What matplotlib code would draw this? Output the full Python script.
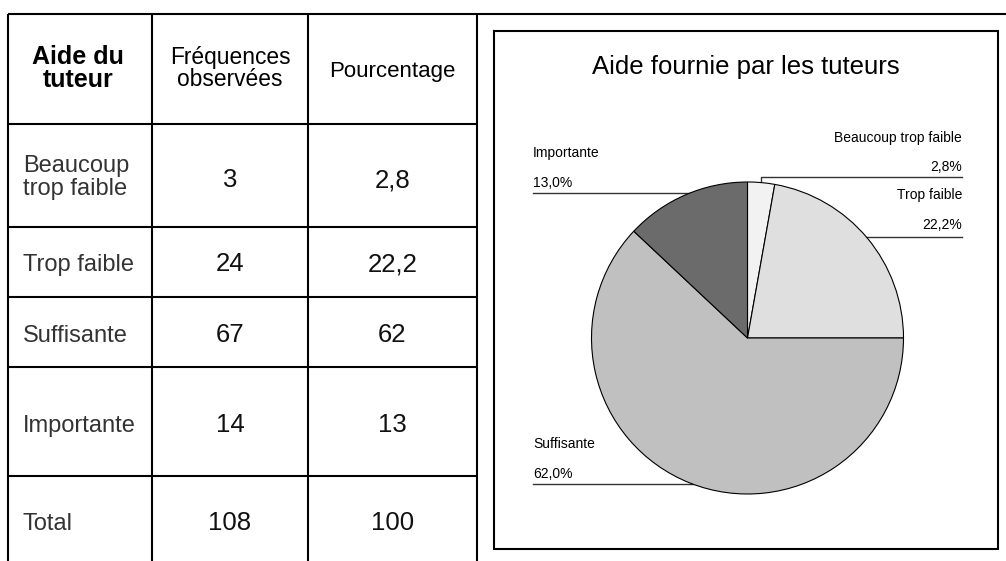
import numpy as np
import matplotlib
matplotlib.use("Agg")
import matplotlib.pyplot as plt

# ---------------- data ----------------
categories = ["Beaucoup trop faible", "Trop faible", "Suffisante", "Importante"]
row_labels = [["Beaucoup", "trop faible"], ["Trop faible"], ["Suffisante"], ["Importante"]]
frequencies = [3, 24, 67, 14]
percentages = [2.8, 22.2, 62, 13]
header = [["Aide du", "tuteur"], ["Fréquences", "observées"], ["Pourcentage"]]
total_label = "Total"
chart_title = "Aide fournie par les tuteurs"
slice_colors = ["#f2f2f2", "#dfdfdf", "#c0c0c0", "#6b6b6b"]

# ---------------- layout (pixels) ----------------
W, H = 1006, 561
FONT = "Liberation Sans"
col_x = [8, 152, 308, 477]
row_y = [14, 124, 227, 297, 367, 476, H]
header_base = [[64, 87], [64, 86], [77]]
header_size = [18, 16.4, 16]
row_base = [[172, 195], [271], [342], [432], [530]]
num_base = [187, 271, 342, 432, 530]
box = (494, 31, 998, 549)
cx, cy, R = 747.5, 338, 156
# label placement: (side, name baseline, pct baseline, line y)
label_layout = {
    "Beaucoup trop faible": ("right", 142, 171, 177),
    "Trop faible": ("right", 199, 229, 237),
    "Suffisante": ("left", 448, 478, 484),
    "Importante": ("left", 157, 187, 193),
}
left_x, right_x = 533, 962

fig = plt.figure(figsize=(W / 100, H / 100), dpi=100)
ax = fig.add_axes([0, 0, 1, 1])
ax.set_xlim(0, W)
ax.set_ylim(H, 0)
ax.axis("off")

lw = 1.5
# table lines
ax.plot([col_x[0], W], [row_y[0], row_y[0]], color="black", lw=lw, solid_capstyle="butt")
for y in row_y[1:-1]:
    ax.plot([col_x[0], col_x[-1]], [y, y], color="black", lw=lw, solid_capstyle="butt")
for x in col_x:
    ax.plot([x, x], [row_y[0], H], color="black", lw=lw, solid_capstyle="butt")

col_centers = [(col_x[i] + col_x[i + 1]) / 2 for i in range(3)]

# header
for ci, lines in enumerate(header):
    for li, txt in enumerate(lines):
        ax.text(col_centers[ci] - (2 if ci == 0 else 0), header_base[ci][li], txt,
                ha="center", va="baseline", fontsize=header_size[ci], family=FONT,
                fontweight="bold" if ci == 0 else "normal", color="black")

def fmt_num(v):
    return f"{v:g}".replace(".", ",")

all_labels = row_labels + [[total_label]]
all_freq = frequencies + [sum(frequencies)]
all_pct = percentages + [round(sum(percentages), 1)]
for ri in range(5):
    for li, txt in enumerate(all_labels[ri]):
        ax.text(23, row_base[ri][li], txt, ha="left", va="baseline", fontsize=17,
                family=FONT, color="#333333")
    ax.text(col_centers[1], num_base[ri], fmt_num(all_freq[ri]), ha="center",
            va="baseline", fontsize=18.5, family=FONT, color="#111111")
    ax.text(col_centers[2], num_base[ri], fmt_num(all_pct[ri]), ha="center",
            va="baseline", fontsize=18.5, family=FONT, color="#111111")

# chart box
x0, y0, x1, y1 = box
ax.plot([x0, x1, x1, x0, x0], [y0, y0, y1, y1, y0], color="black", lw=lw,
        solid_joinstyle="miter")
ax.text((x0 + x1) / 2, 74, chart_title, ha="center", va="baseline", fontsize=18.5,
        family=FONT, color="black")

# pie
pax = fig.add_axes([(cx - R) / W, 1 - (cy + R) / H, 2 * R / W, 2 * R / H])
wedges, _ = pax.pie(percentages, colors=slice_colors, startangle=90, counterclock=False,
                    wedgeprops=dict(edgecolor="black", linewidth=0.8))
pax.set_xlim(-1, 1)
pax.set_ylim(-1, 1)
pax.set_aspect("equal")
pax.axis("off")

# labels + leader lines
total = sum(percentages)
start = 90.0
for cat, val in zip(categories, percentages):
    span = 360.0 * val / total
    mid = np.deg2rad(start - span / 2)
    start -= span
    ax_x = cx + R * np.cos(mid)
    ax_y = cy - R * np.sin(mid)
    side, nb, pb, ly = label_layout[cat]
    tx = right_x if side == "right" else left_x
    ha = "right" if side == "right" else "left"
    ax.text(tx, nb, cat, ha=ha, va="baseline", fontsize=10, family=FONT, color="black")
    ax.text(tx, pb, f"{val:.1f}%".replace(".", ","), ha=ha, va="baseline",
            fontsize=10, family=FONT, color="black")
    dy = ly - cy
    if abs(dy) < R:
        dx = np.sqrt(R ** 2 - dy ** 2)
        ex = cx + dx if side == "right" else cx - dx
        ax.plot([tx, ex], [ly, ly], color="#333333", lw=1.0)
    else:
        ax.plot([tx, ax_x, ax_x], [ly, ly, ax_y], color="#333333", lw=1.0)

fig.savefig("out.png", dpi=100)
